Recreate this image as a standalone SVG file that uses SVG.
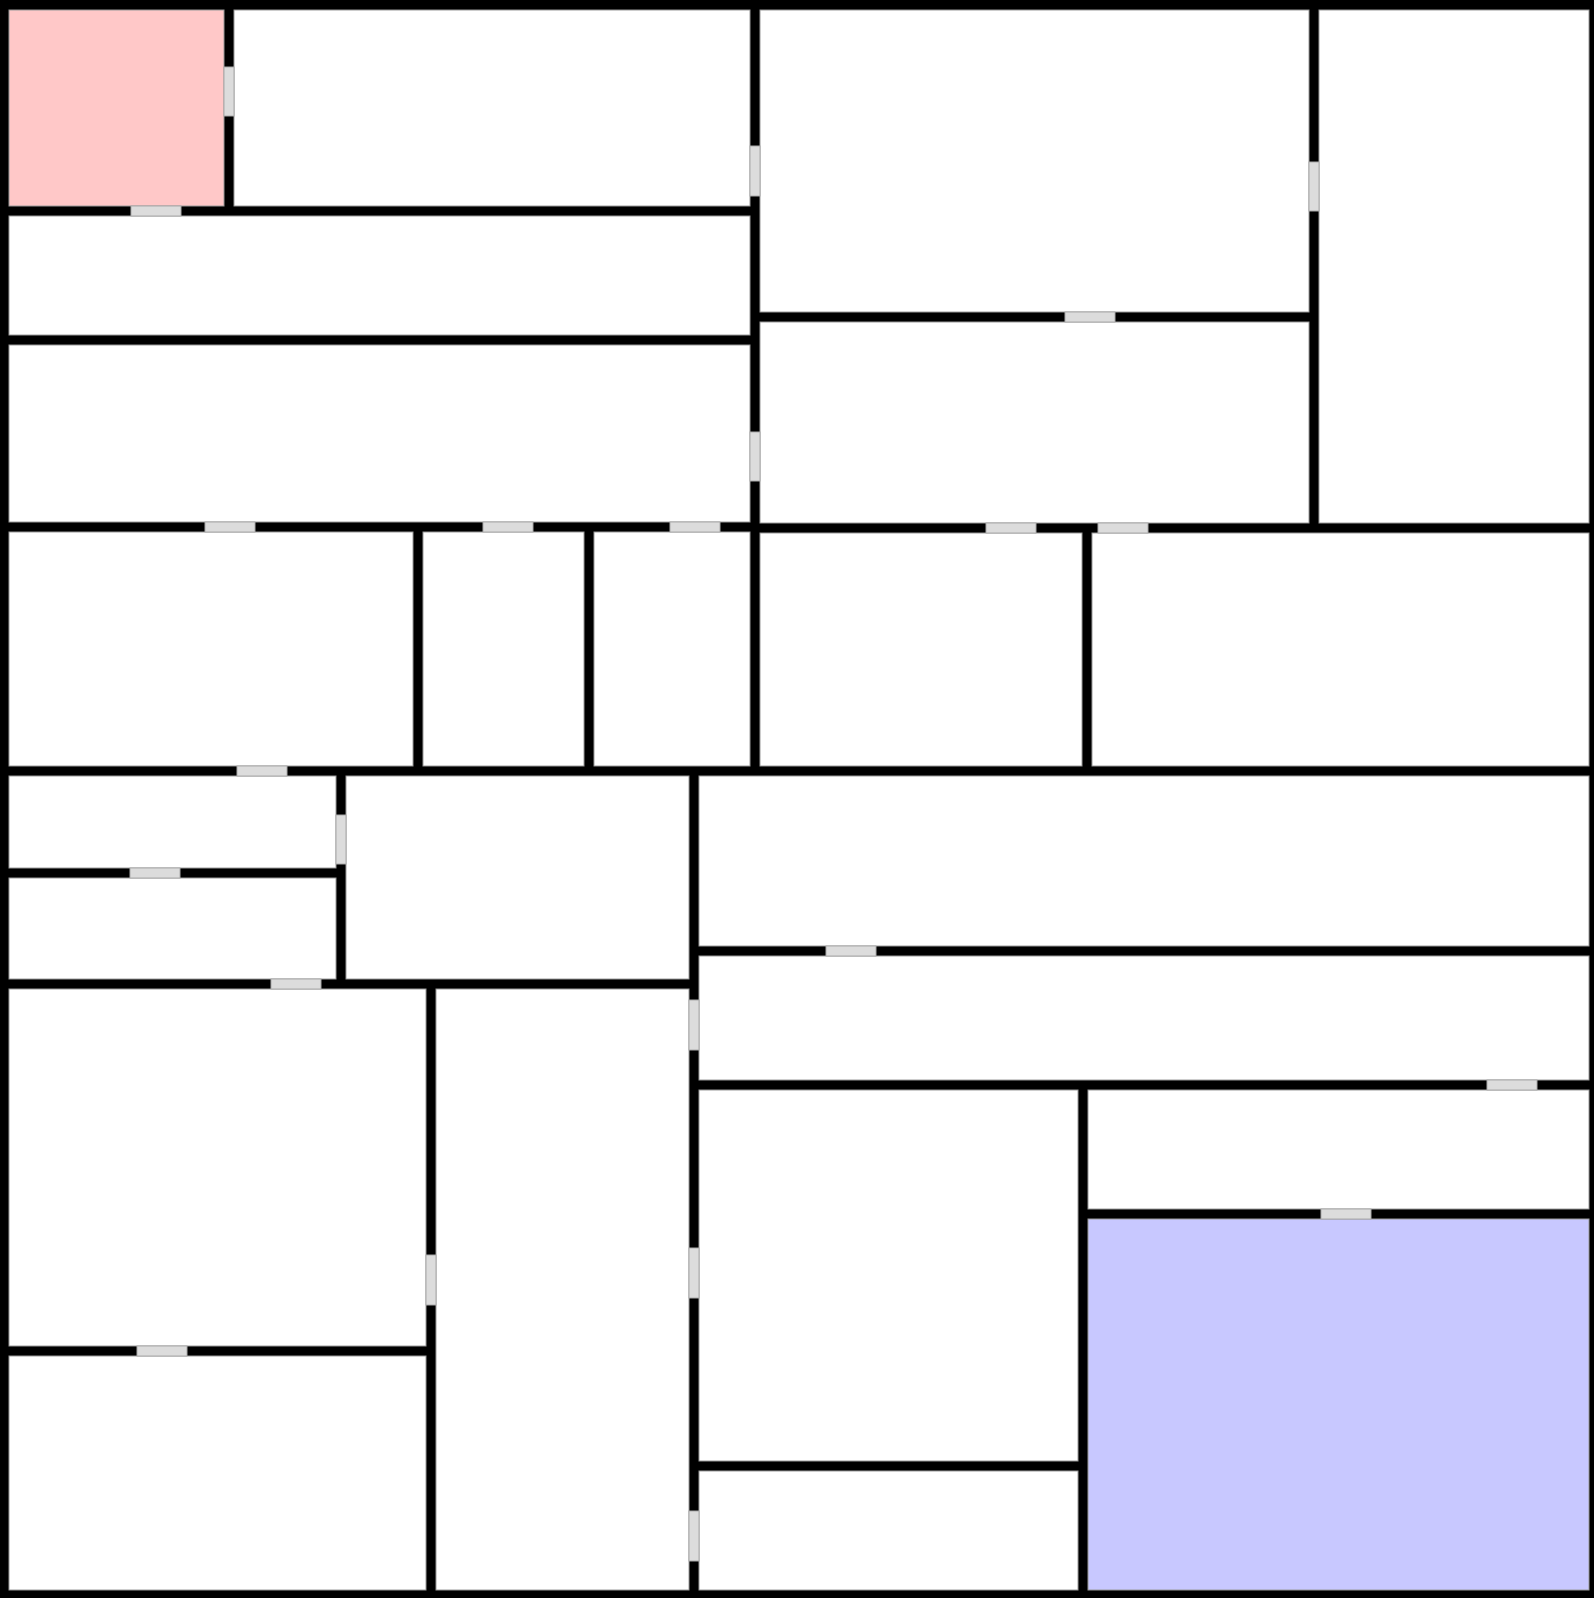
<svg xmlns="http://www.w3.org/2000/svg" width="1594" height="1598" viewBox="0 0 1594 1598">
<style>
.room{fill:#ffffff;stroke:#9a9a9a;stroke-width:1}
.start{fill:#ffc8c8}
.goal{fill:#c8c8ff}
.door{fill:#dcdcdc;stroke:#aaaaaa;stroke-width:1}
</style>
<rect id="walls" x="0" y="0" width="1594" height="1598" fill="#000000"/>
<g id="rooms">
<g id="r1"><rect class="room start" x="9" y="10" width="215" height="196"/></g>
<g id="r2"><rect class="room" x="234" y="10" width="516" height="196"/></g>
<g id="r3"><rect class="room" x="760" y="10" width="549" height="302"/></g>
<g id="r4"><rect class="room" x="1319" y="10" width="270" height="513"/></g>
<g id="r5"><rect class="room" x="9" y="216" width="741" height="119"/></g>
<g id="r6"><rect class="room" x="9" y="345" width="741" height="177"/></g>
<g id="r7"><rect class="room" x="760" y="322" width="549" height="201"/></g>
<g id="r8"><rect class="room" x="9" y="532" width="404" height="234"/></g>
<g id="r9"><rect class="room" x="423" y="532" width="161" height="234"/></g>
<g id="r10"><rect class="room" x="594" y="532" width="156" height="234"/></g>
<g id="r11"><rect class="room" x="760" y="533" width="322" height="233"/></g>
<g id="r12"><rect class="room" x="1092" y="533" width="497" height="233"/></g>
<g id="r13"><rect class="room" x="9" y="776" width="327" height="92"/></g>
<g id="r14"><rect class="room" x="9" y="878" width="327" height="101"/></g>
<g id="r15"><rect class="room" x="346" y="776" width="343" height="203"/></g>
<g id="r16"><rect class="room" x="699" y="776" width="890" height="170"/></g>
<g id="r17"><rect class="room" x="699" y="956" width="890" height="124"/></g>
<g id="r18"><rect class="room" x="9" y="989" width="417" height="357"/></g>
<g id="r19"><rect class="room" x="9" y="1356" width="417" height="234"/></g>
<g id="r20"><rect class="room" x="436" y="989" width="253" height="601"/></g>
<g id="r21"><rect class="room" x="699" y="1090" width="379" height="371"/></g>
<g id="r22"><rect class="room" x="699" y="1471" width="379" height="119"/></g>
<g id="r23"><rect class="room" x="1088" y="1090" width="501" height="119"/></g>
<g id="r24"><rect class="room goal" x="1088" y="1219" width="501" height="371"/></g>
</g>
<g id="doors">
<rect class="door" x="224" y="67" width="10" height="49"/>
<rect class="door" x="750" y="146" width="10" height="50"/>
<rect class="door" x="750" y="432" width="10" height="49"/>
<rect class="door" x="1309" y="162" width="10" height="49"/>
<rect class="door" x="336" y="815" width="10" height="49"/>
<rect class="door" x="689" y="1000" width="10" height="50"/>
<rect class="door" x="689" y="1248" width="10" height="50"/>
<rect class="door" x="689" y="1511" width="10" height="50"/>
<rect class="door" x="426" y="1255" width="10" height="50"/>
<rect class="door" x="131" y="206" width="50" height="10"/>
<rect class="door" x="205" y="522" width="50" height="10"/>
<rect class="door" x="483" y="522" width="50" height="10"/>
<rect class="door" x="670" y="522" width="50" height="10"/>
<rect class="door" x="986" y="523" width="50" height="10"/>
<rect class="door" x="1098" y="523" width="50" height="10"/>
<rect class="door" x="1065" y="312" width="50" height="10"/>
<rect class="door" x="237" y="766" width="50" height="10"/>
<rect class="door" x="130" y="868" width="50" height="10"/>
<rect class="door" x="271" y="979" width="50" height="10"/>
<rect class="door" x="826" y="946" width="50" height="10"/>
<rect class="door" x="1487" y="1080" width="50" height="10"/>
<rect class="door" x="1321" y="1209" width="50" height="10"/>
<rect class="door" x="137" y="1346" width="50" height="10"/>
</g>
</svg>
